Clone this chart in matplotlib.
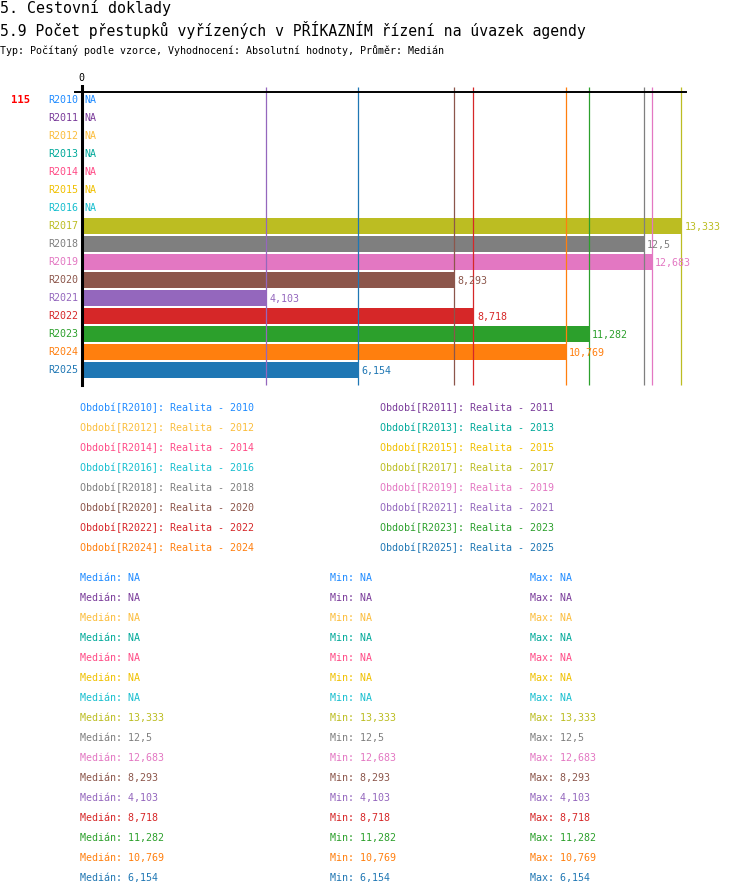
import numpy as np
import matplotlib.pyplot as plt

# data
periods = ["R2010", "R2011", "R2012", "R2013", "R2014", "R2015", "R2016", "R2017",
           "R2018", "R2019", "R2020", "R2021", "R2022", "R2023", "R2024", "R2025"]
years = [p[1:] for p in periods]
values = [np.nan, np.nan, np.nan, np.nan, np.nan, np.nan, np.nan, 13.333,
          12.5, 12.683, 8.293, 4.103, 8.718, 11.282, 10.769, 6.154]
colors = ["#1f8bff", "#7a3b9a", "#fbbd3c", "#00a99a", "#ff4b86", "#f0c000", "#17becf", "#bcbd22",
          "#7f7f7f", "#e377c2", "#8c564b", "#9467bd", "#d62728", "#2ca02c", "#ff7f0e", "#1f77b4"]
count_label = "115"

title = "5. Cestovní doklady"
subtitle = "5.9 Počet přestupků vyřízených v PŘÍKAZNÍM řízení na úvazek agendy"
typ_line = "Typ: Počítaný podle vzorce, Vyhodnocení: Absolutní hodnoty, Průměr: Medián"

W, H = 750, 896
FONT = "DejaVu Sans Mono"


def fmt(v):
    if np.isnan(v):
        return "NA"
    s = f"{v:.3f}".rstrip("0").rstrip(".")
    return s.replace(".", ",")


def px(x, y):
    return x / W, 1 - y / H


fig = plt.figure(figsize=(W / 100, H / 100), dpi=100)

# nadpisy
fig.text(*px(0, 8), title, fontsize=10.8, family=FONT, va="center", ha="left")
fig.text(*px(0, 30), subtitle, fontsize=10.6, family=FONT, va="center", ha="left")
fig.text(*px(0, 50), typ_line, fontsize=7.2, family=FONT, va="center", ha="left")

# graf
scale = 44.96  # px na jednotku
top, bottom = 85, 388
ax = fig.add_axes([0, 1 - bottom / H, 1, (bottom - top) / H])
ax.set_xlim(-81.5 / scale, (W - 81.5) / scale)
ax.set_ylim((bottom - 100) / 18, (top - 100) / 18)
ax.axis("off")

rows = np.arange(len(periods))
vals = np.array(values)
ax.barh(rows, np.nan_to_num(vals), height=16 / 18, color=colors, zorder=2)

ok = ~np.isnan(vals)
ax.vlines(vals[ok], -0.72, 15.83, colors=np.array(colors)[ok], lw=0.9, zorder=3)
ax.plot([-6.5 / scale, 604.5 / scale], [-0.444, -0.444], color="black", lw=1.4, zorder=4)
ax.plot([0, 0], [-0.83, 15.83], color="black", lw=2.2, zorder=4)
ax.text(0, -0.95, "0", fontsize=7.2, family=FONT, ha="center", va="bottom")

for i, (p, v, c) in enumerate(zip(periods, values, colors)):
    ax.text(-3.5 / scale, i, p, fontsize=7.2, family=FONT, color=c, ha="right", va="center")
    if np.isnan(v):
        ax.text(2.5 / scale, i, "NA", fontsize=7.2, family=FONT, color=c, ha="left", va="center")
    else:
        ax.text(v + 3.5 / scale, i + 0.03, fmt(v), fontsize=7.2, family=FONT, color=c,
                ha="left", va="center")

ax.text(-71 / scale, 0, count_label, fontsize=7.6, family=FONT, weight="bold",
        color="red", ha="left", va="center")

# legenda
for i, (p, y, c) in enumerate(zip(periods, years, colors)):
    x = 80 if i % 2 == 0 else 380
    yy = 408 + 20 * (i // 2)
    fig.text(*px(x, yy), f"Období[{p}]: Realita - {y}", fontsize=7.2, family=FONT,
             color=c, ha="left", va="center")

# statistiky
for i, (v, c) in enumerate(zip(values, colors)):
    yy = 578 + 20 * i
    s = fmt(v)
    fig.text(*px(80, yy), f"Medián: {s}", fontsize=7.2, family=FONT, color=c, ha="left", va="center")
    fig.text(*px(330, yy), f"Min: {s}", fontsize=7.2, family=FONT, color=c, ha="left", va="center")
    fig.text(*px(530, yy), f"Max: {s}", fontsize=7.2, family=FONT, color=c, ha="left", va="center")

fig.savefig("out.png", dpi=100)
